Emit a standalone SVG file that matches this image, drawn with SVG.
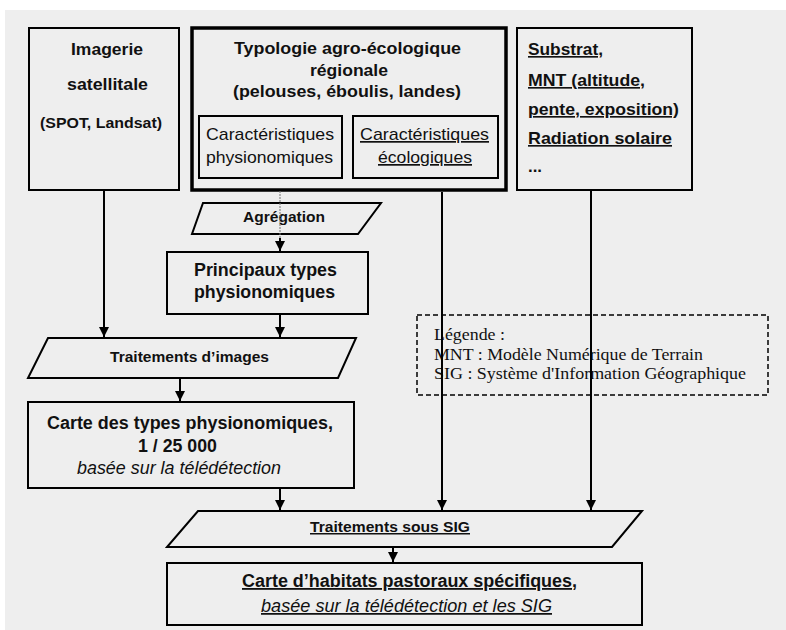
<svg xmlns="http://www.w3.org/2000/svg" width="786" height="630" viewBox="0 0 786 630">
<defs>
<style>
.box{fill:none;stroke:#000;stroke-width:2}
.thick{fill:none;stroke:#000;stroke-width:3.5}
.b{font-family:"Liberation Sans",Arial,sans-serif;font-weight:bold;fill:#111}
.n{font-family:"Liberation Sans",Arial,sans-serif;fill:#111}
.i{font-family:"Liberation Sans",Arial,sans-serif;font-style:italic;fill:#111}
.s{font-family:"Liberation Serif","Times New Roman",serif;fill:#111;font-size:16px}
.u{text-decoration:underline}
.line{stroke:#000;stroke-width:2;fill:none}
</style>
<marker id="ah" viewBox="0 0 10 10" refX="10" refY="5" markerWidth="5" markerHeight="5" orient="auto" markerUnits="strokeWidth">
<path d="M0,0 L10,5 L0,10 z" fill="#000"/>
</marker>
</defs>
<rect x="5" y="10" width="781" height="620" fill="#eeeeee"/>

<g id="legend">
<rect x="417" y="315" width="351" height="80" fill="none" stroke="#000" stroke-width="1.5" stroke-dasharray="5,3"/>
<text class="s" x="434" y="340" textLength="71" lengthAdjust="spacingAndGlyphs">Légende :</text>
<text class="s" x="434" y="360" textLength="269" lengthAdjust="spacingAndGlyphs">MNT : Modèle Numérique de Terrain</text>
<text class="s" x="434" y="379" textLength="312" lengthAdjust="spacingAndGlyphs">SIG : Système d'Information Géographique</text>
</g>

<g id="imagerie">
<rect class="box" x="29" y="28" width="150" height="162"/>
<text class="b" x="71" y="55" font-size="16" textLength="72" lengthAdjust="spacingAndGlyphs">Imagerie</text>
<text class="b" x="67" y="90" font-size="16" textLength="81" lengthAdjust="spacingAndGlyphs">satellitale</text>
<text class="b" x="40" y="128" font-size="14" textLength="122" lengthAdjust="spacingAndGlyphs">(SPOT, Landsat)</text>
</g>

<g id="typologie">
<rect class="thick" x="192" y="28" width="314" height="162"/>
<text class="b" x="234" y="54" font-size="17" textLength="227" lengthAdjust="spacingAndGlyphs">Typologie agro-écologique</text>
<text class="b" x="310" y="76" font-size="17" textLength="78" lengthAdjust="spacingAndGlyphs">régionale</text>
<text class="b" x="233" y="97" font-size="17" textLength="228" lengthAdjust="spacingAndGlyphs">(pelouses, éboulis, landes)</text>
<g id="physio">
<rect class="box" x="199" y="116" width="143" height="62"/>
<text class="n" x="206" y="140" font-size="17" textLength="128" lengthAdjust="spacingAndGlyphs">Caractéristiques</text>
<text class="n" x="206" y="163" font-size="17" textLength="127" lengthAdjust="spacingAndGlyphs">physionomiques</text>
</g>
<g id="eco">
<rect class="box" x="353" y="116" width="145" height="62"/>
<text class="n u" x="360" y="140" font-size="17" textLength="129" lengthAdjust="spacingAndGlyphs">Caractéristiques</text>
<text class="n u" x="378" y="163" font-size="17" textLength="94" lengthAdjust="spacingAndGlyphs">écologiques</text>
</g>
</g>

<g id="substrat">
<rect class="box" x="517" y="28" width="175" height="162"/>
<text class="b u" x="528" y="55" font-size="16.5" textLength="75" lengthAdjust="spacingAndGlyphs">Substrat,</text>
<text class="b u" x="528" y="86" font-size="16.5" textLength="117" lengthAdjust="spacingAndGlyphs">MNT (altitude,</text>
<text class="b u" x="528" y="115" font-size="16.5" textLength="151" lengthAdjust="spacingAndGlyphs">pente, exposition)</text>
<text class="b u" x="528" y="144" font-size="16.5" textLength="144" lengthAdjust="spacingAndGlyphs">Radiation solaire</text>
<text class="b" x="528" y="172" font-size="16.5" textLength="14" lengthAdjust="spacingAndGlyphs">...</text>
</g>

<g id="agregation">
<polygon class="box" points="203,203 381,203 358,234 192,234"/>
<text class="b" x="243" y="222" font-size="14.5" textLength="82" lengthAdjust="spacingAndGlyphs">Agrégation</text>
</g>

<g id="principaux">
<rect class="box" x="167" y="252" width="201" height="62"/>
<text class="b" x="194" y="276" font-size="17.5" textLength="143" lengthAdjust="spacingAndGlyphs">Principaux types</text>
<text class="b" x="194" y="298" font-size="17.5" textLength="141" lengthAdjust="spacingAndGlyphs">physionomiques</text>
</g>

<g id="traitements-images">
<polygon class="box" points="48,338 356,338 338,378 28,378"/>
<text class="b" x="110" y="362" font-size="14.5" textLength="159" lengthAdjust="spacingAndGlyphs">Traitements d’images</text>
</g>

<g id="carte-types">
<rect class="box" x="28" y="402" width="326" height="86"/>
<text class="b" x="47" y="429" font-size="18" textLength="286" lengthAdjust="spacingAndGlyphs">Carte des types physionomiques,</text>
<text class="b" x="138" y="452" font-size="18" textLength="79" lengthAdjust="spacingAndGlyphs">1 / 25 000</text>
<text class="i" x="77" y="474" font-size="17.5" textLength="204" lengthAdjust="spacingAndGlyphs">basée sur la télédétection</text>
</g>

<g id="traitements-sig">
<polygon class="box" points="198,511 642,511 612,547 167,547"/>
<text class="b u" x="310" y="532" font-size="15" textLength="160" lengthAdjust="spacingAndGlyphs">Traitements sous SIG</text>
</g>

<g id="carte-habitats">
<rect class="box" x="167" y="563" width="475" height="62"/>
<text class="b u" x="242" y="587" font-size="18" textLength="335" lengthAdjust="spacingAndGlyphs">Carte d’habitats pastoraux spécifiques,</text>
<text class="i u" x="261" y="612" font-size="17.5" textLength="291" lengthAdjust="spacingAndGlyphs">basée sur la télédétection et les SIG</text>
</g>

<g id="connectors">
<line class="line" x1="104" y1="191" x2="104" y2="337" marker-end="url(#ah)"/>
<line x1="280" y1="191" x2="280" y2="240" stroke="#777" stroke-width="1" stroke-dasharray="2,1"/>
<line class="line" x1="280" y1="238" x2="280" y2="251" marker-end="url(#ah)"/>
<line class="line" x1="280" y1="315" x2="280" y2="337" marker-end="url(#ah)"/>
<line class="line" x1="180" y1="379" x2="180" y2="401" marker-end="url(#ah)"/>
<line class="line" x1="280" y1="489" x2="280" y2="510" marker-end="url(#ah)"/>
<line class="line" x1="442" y1="192" x2="442" y2="510" marker-end="url(#ah)"/>
<line class="line" x1="591" y1="191" x2="591" y2="510" marker-end="url(#ah)"/>
<line class="line" x1="393" y1="548" x2="393" y2="562" marker-end="url(#ah)"/>
</g>
</svg>
